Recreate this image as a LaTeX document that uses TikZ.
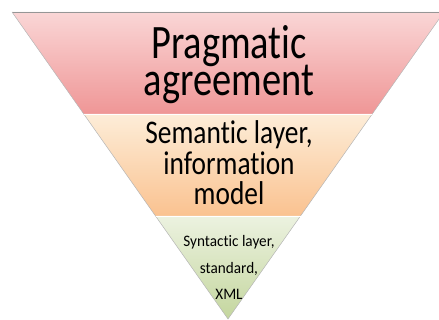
\documentclass[tikz,border=0pt]{standalone}
\usepackage{fontspec}
\setmainfont{Carlito}[Ligatures=NoCommon]
\newfontfamily\topfont[FakeStretch=0.8,Ligatures=NoCommon]{Carlito}
\newfontfamily\midfont[FakeStretch=0.83,Ligatures=NoCommon]{Carlito}
\newfontfamily\lowfont[FakeStretch=0.95,Ligatures=NoCommon]{Carlito}
\definecolor{redtop}{RGB}{250,214,214}
\definecolor{redbot}{RGB}{239,150,150}
\definecolor{orgtop}{RGB}{253,237,216}
\definecolor{orgbot}{RGB}{250,194,144}
\definecolor{grntop}{RGB}{236,242,224}
\definecolor{grnbot}{RGB}{196,214,158}
\definecolor{edgegray}{RGB}{150,150,150}
\tikzset{
  bandline/.style={draw=white, line width=0.8pt},
  toptext/.style={anchor=base, inner sep=0pt, font=\topfont\fontsize{48}{48}\selectfont},
  midtext/.style={anchor=base, inner sep=0pt, font=\midfont\fontsize{33}{33}\selectfont},
  lowtext/.style={anchor=base, inner sep=0pt, font=\lowfont\fontsize{16}{16}\selectfont},
}
\begin{document}
\begin{tikzpicture}[x=1pt,y=-1pt]
\useasboundingbox (0,0) rectangle (439,320);
\clip (0,0) rectangle (439,320);
% bands
\shade[top color=redtop, bottom color=redbot] (12,12) -- (444,12) -- (372.2,114) -- (83.8,114) -- cycle;
\shade[top color=orgtop, bottom color=orgbot] (83.8,114) -- (372.2,114) -- (300.5,216) -- (155.5,216) -- cycle;
\shade[top color=grntop, bottom color=grnbot] (155.5,216) -- (300.5,216) -- (228,319) -- cycle;
% outlines
\draw[edgegray, line width=0.9pt] (12,12) -- (444,12);
\draw[edgegray!70, line width=0.5pt] (12,12) -- (228,319) -- (444,12);
\draw[bandline] (83.8,114) -- (372.2,114);
\draw[bandline] (155.5,216) -- (300.5,216);
% texts
\node[toptext] (p1) at (229,59) {Pragmatic};
\node[toptext] (p2) at (229,96) {agreement};
\node[midtext] (s1) at (229,144) {Semantic layer,};
\node[midtext] (s2) at (229,175) {information};
\node[midtext] (s3) at (229,205) {model};
\node[lowtext] (x1) at (229,247) {Syntactic layer,};
\node[lowtext] (x2) at (229,274) {standard,};
\node[lowtext] (x3) at (229,300) {XML};
\end{tikzpicture}
\end{document}
